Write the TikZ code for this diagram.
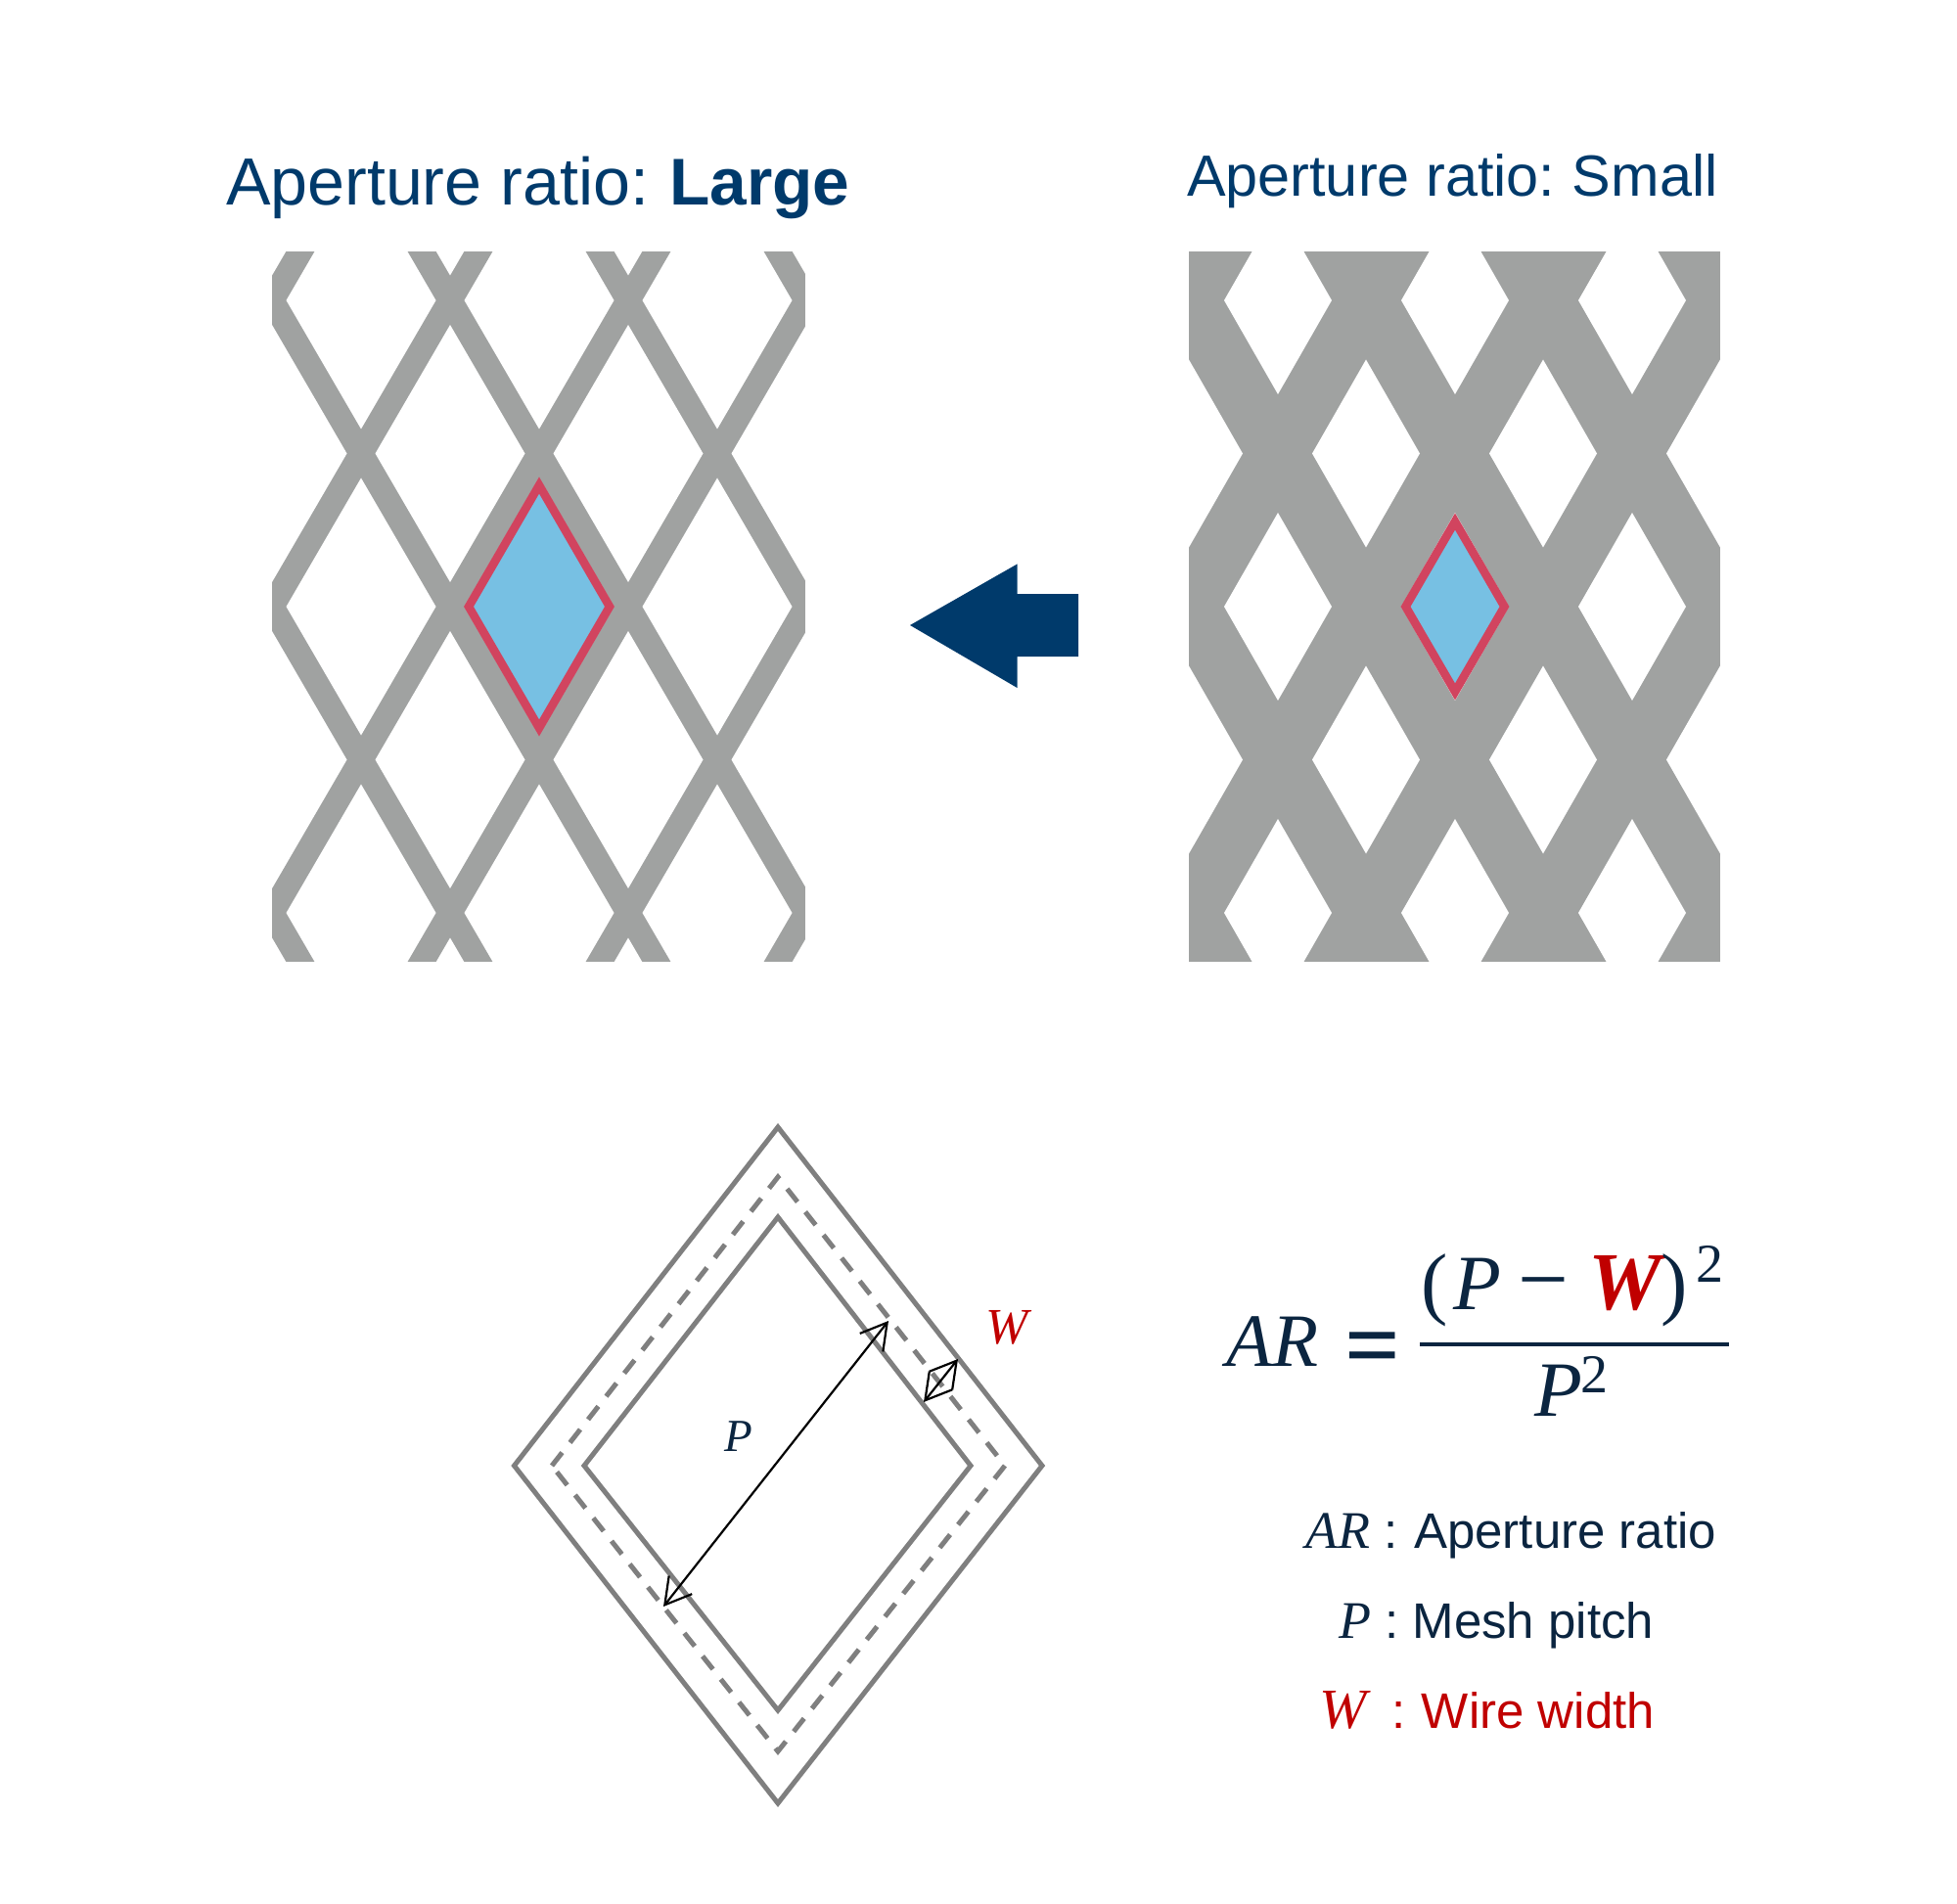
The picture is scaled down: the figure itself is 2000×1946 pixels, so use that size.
\documentclass[tikz,border=0pt]{standalone}
\usepackage{fontspec}
\usetikzlibrary{arrows.meta}
\setmainfont{Liberation Sans}
\newfontfamily\mf{Liberation Serif}
\definecolor{meshgray}{HTML}{A0A2A1}
\definecolor{holeblue}{HTML}{77C0E3}
\definecolor{holered}{HTML}{D1445F}
\definecolor{navy}{HTML}{003A6B}
\definecolor{inkblue}{HTML}{0B2540}
\definecolor{wirered}{HTML}{C00000}
\definecolor{linegray}{HTML}{7F7F7F}
\newcommand{\meshhole}[4]{\fill[white] (#1-#3,#2) -- (#1,#2-#4) -- (#1+#3,#2) -- (#1,#2+#4) -- cycle;}
\tikzset{
  lbl/.style={anchor=base west,inner sep=0pt,outer sep=0pt},
  rhomb/.style={draw=linegray,line width=2.5pt,line join=miter},
  dim/.style={draw=black,line width=1.1pt,{Straight Barb[length=13pt,width=15pt,line width=1.1pt]}-{Straight Barb[length=13pt,width=15pt,line width=1.1pt]}},
  open/.style={draw=holered,fill=holeblue,line width=4.3pt,line join=miter,miter limit=10},
}
\begin{document}
\begin{tikzpicture}[x=0.5pt,y=-0.5pt]
\useasboundingbox (0,0) rectangle (2000,1946);
% titles
\node[lbl,text=navy,font=\fontsize{34.1}{40}\selectfont] (tl) at (231,209.5) {Aperture ratio:\kern10.6pt\textbf{\fontsize{33.8}{40}\selectfont Large}};
\node[lbl,text=navy,font=\fontsize{29.7}{36}\selectfont] (tr) at (1213,201) {Aperture ratio:\kern8.8pt Small};
% left mesh
\begin{scope}
\clip (278,257) rectangle (823,983);
\fill[meshgray] (278,257) rectangle (823,983);
\foreach \yy in {150,463.5,776.5,1090}{\foreach \xx in {278,460,642,824}{\meshhole{\xx}{\yy}{76.5}{131.5}}}
\foreach \yy in {307,620,933}{\foreach \xx in {369,551,733}{\meshhole{\xx}{\yy}{76.5}{131.5}}}
\end{scope}
\draw[open] (479,620) -- (551,496) -- (623,620) -- (551,744) -- cycle;
% right mesh
\begin{scope}
\clip (1215,257) rectangle (1758,983);
\fill[meshgray] (1215,257) rectangle (1758,983);
\foreach \yy in {150,463.5,776.5,1090}{\foreach \xx in {1215,1396,1577,1758}{\meshhole{\xx}{\yy}{55}{96}}}
\foreach \yy in {307,620,933}{\foreach \xx in {1306,1487,1668}{\meshhole{\xx}{\yy}{55}{96}}}
\end{scope}
\draw[open] (1436.5,620) -- (1487,533) -- (1537.5,620) -- (1487,707) -- cycle;
% block arrow
\fill[navy] (930,639) -- (1039.5,576.5) -- (1039.5,607) -- (1102,607) -- (1102,671) -- (1039.5,671) -- (1039.5,703) -- cycle;
% pitch diagram
\draw[rhomb] (525.5,1498) -- (795,1152) -- (1065,1498) -- (795,1843) -- cycle;
\draw[rhomb] (597,1498) -- (795,1244) -- (992,1498) -- (795,1748) -- cycle;
\draw[rhomb,dash pattern=on 8.5pt off 6.5pt] (564,1498) -- (795,1203) -- (1027,1498) -- (795,1790) -- cycle;
\coordinate (pa) at (678,1642);
\coordinate (pb) at (908,1350);
\coordinate (wa) at (944,1433);
\coordinate (wb) at (979,1389);
\draw[dim] (pa) -- (pb);
\draw[dim] (wa) -- (wb);
\node[lbl,text=inkblue,font=\mf\itshape\fontsize{23.5}{28}\selectfont] (plab) at (740,1483) {P};
\node[lbl,text=wirered,font=\mf\itshape\fontsize{26}{28}\selectfont] (wlab) at (1007,1373) {W};
% formula
\node[lbl,text=inkblue,font=\mf\itshape\fontsize{38.5}{44}\selectfont] (ar) at (1253,1396) {AR};
\node[lbl,text=inkblue,font=\mf\bfseries\fontsize{50}{56}\selectfont] (eq) at (1374,1408) {=};
\node[lbl,text=inkblue,font=\mf\itshape\fontsize{40}{44}\selectfont] (num) at (1452,1338) {{\upshape\fontsize{41}{44}\selectfont(}\kern3pt P\kern8.5pt{\upshape\fontsize{46}{44}\selectfont−}\kern10pt{\color{wirered}\bfseries\fontsize{42}{44}\selectfont W}{\upshape\fontsize{41}{44}\selectfont)}\kern4pt\raisebox{14pt}{\upshape\fontsize{28}{30}\selectfont 2}};
\coordinate (ba) at (1451,1374);
\coordinate (bb) at (1767,1374);
\draw[inkblue,line width=2.3pt] (ba) -- (bb);
\node[lbl,text=inkblue,font=\mf\itshape\fontsize{40}{44}\selectfont] (den) at (1568,1447) {P\kern-0.5pt\raisebox{12pt}{\upshape\fontsize{28}{30}\selectfont 2}};
% legend
\node[lbl,text=inkblue,font=\fontsize{25.5}{28}\selectfont] (l1) at (1334,1582) {{\mf\itshape\fontsize{27}{28}\selectfont AR}\kern7.5pt:\kern8pt Aperture ratio};
\node[lbl,text=inkblue,font=\fontsize{25.5}{28}\selectfont] (l2) at (1368,1674) {{\mf\itshape\fontsize{27}{28}\selectfont P}\kern7pt:\kern7.2pt Mesh pitch};
\node[lbl,text=wirered,font=\fontsize{25.5}{28}\selectfont] (l3) at (1348,1766) {{\mf\itshape\fontsize{29}{28}\selectfont W}\kern13pt:\kern8.2pt Wire width};
\end{tikzpicture}
\end{document}
